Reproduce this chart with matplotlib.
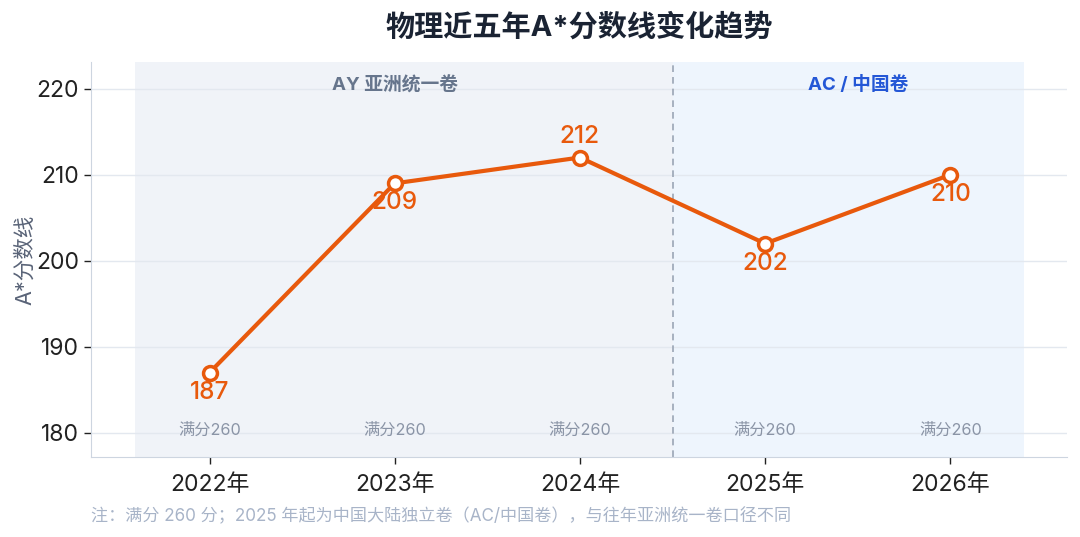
import numpy as np
import matplotlib
matplotlib.use("Agg")
import matplotlib.pyplot as plt

plt.rcParams['font.family'] = ['Inter', 'Noto Sans CJK SC', 'DejaVu Sans']

years = ["2022年", "2023年", "2024年", "2025年", "2026年"]
scores = [187, 209, 212, 202, 210]
full_marks = ["满分260", "满分260", "满分260", "满分260", "满分260"]
label_side = ["below", "below", "above", "below", "below"]

orange = "#e8590c"

fig = plt.figure(figsize=(10.8, 5.37), dpi=100)
ax = fig.add_axes([91 / 1080, 1 - 457 / 537, (1067 - 91) / 1080, (457 - 62) / 537])

x = np.arange(len(years))

# period shading
ax.axvspan(-0.4, 2.5, color="#f0f3f8", zorder=0, lw=0)
ax.axvspan(2.5, 4.4, color="#eef5fd", zorder=0, lw=0)
ax.axvline(2.5, color="#9aa5b5", ls=(0, (4, 3)), lw=1.2, zorder=1)

ax.plot(x, scores, color=orange, lw=3, marker="o", ms=10,
        markerfacecolor="white", markeredgecolor=orange, markeredgewidth=2.5, zorder=4)

for xi, s, side in zip(x, scores, label_side):
    dy = 15 if side == "above" else -14
    ax.annotate(str(s), (xi, s), xytext=(0, dy), textcoords="offset points",
                ha="center", va="center", color=orange, fontsize=17.5,
                fontweight="medium", zorder=5)

for xi, t in zip(x, full_marks):
    ax.text(xi, 180.3, t, ha="center", va="center", color="#8a94a6", fontsize=11.7)

ax.text(1, 220.4, "AY 亚洲统一卷", ha="center", va="center", color="#66758c",
        fontsize=13.5, fontweight="bold")
ax.text(3.5, 220.4, "AC / 中国卷", ha="center", va="center", color="#2457d6",
        fontsize=13.5, fontweight="bold")

ax.set_xlim(-0.64, 4.63)
ax.set_ylim(177.2, 223.1)
ax.set_xticks(x)
ax.set_xticklabels(years)
ax.set_yticks([180, 190, 200, 210, 220])
ax.tick_params(axis="both", labelsize=16.5, colors="#222222", length=5, width=1)
ax.tick_params(axis="x", pad=7)
ax.grid(axis="y", color="#e3e8ef", lw=1, zorder=0)
ax.set_axisbelow(True)

for sp in ["top", "right"]:
    ax.spines[sp].set_visible(False)
for sp in ["left", "bottom"]:
    ax.spines[sp].set_color("#cdd5e0")

ax.set_ylabel("A*分数线", color="#5a6478", fontsize=15.5)
ax.yaxis.set_label_coords(-56 / 976, 0.5)

fig.text(579 / 1080, 1 - 27 / 537, "物理近五年A*分数线变化趋势", ha="center", va="center",
         fontsize=21, fontweight="bold", color="#1a2333")
fig.text(91 / 1080, 1 - 516 / 537,
         "注：满分 260 分；2025 年起为中国大陆独立卷（AC/中国卷），与往年亚洲统一卷口径不同",
         ha="left", va="center", fontsize=12.3, color="#a8b4c8")

fig.savefig("out.png", dpi=100)
